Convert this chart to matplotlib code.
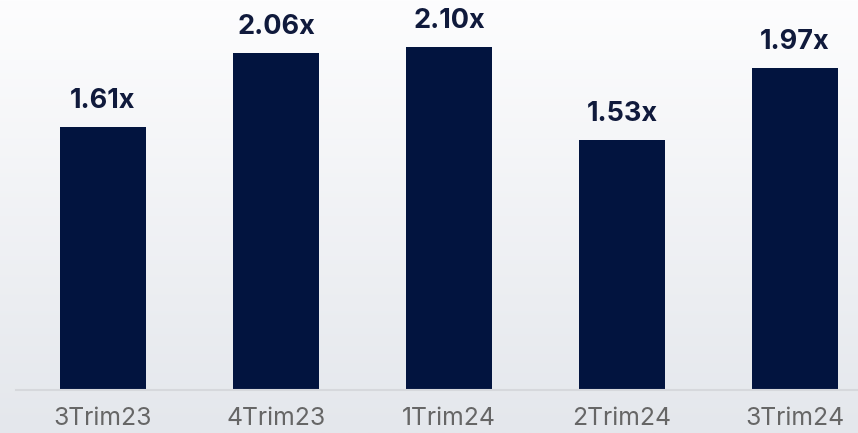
import numpy as np
import matplotlib
matplotlib.use("Agg")
import matplotlib.pyplot as plt
from matplotlib.colors import LinearSegmentedColormap

categories = ["3Trim23", "4Trim23", "1Trim24", "2Trim24", "3Trim24"]
values = [1.61, 2.06, 2.10, 1.53, 1.97]
labels = ["1.61x", "2.06x", "2.10x", "1.53x", "1.97x"]

W, H = 858, 433
fig = plt.figure(figsize=(W / 100, H / 100), dpi=100)

# background gradient
bg = fig.add_axes([0, 0, 1, 1], zorder=0)
cmap = LinearSegmentedColormap.from_list("bg", ["#fdfdfe", "#e4e7ec"])
grad = np.linspace(0, 1, 256).reshape(-1, 1)
bg.imshow(grad, aspect="auto", cmap=cmap, extent=[0, 1, 0, 1], origin="upper")
bg.axis("off")

ax = fig.add_axes([16 / W, (H - 390) / H, (W - 16) / W, 390 / H], zorder=1)
ax.patch.set_alpha(0)
x = np.arange(len(categories))
ax.bar(x, values, width=0.5, color="#02143f")
ax.set_xlim(-0.503, 4.364)
ax.set_ylim(0, 2.387)
for xi, v, lab in zip(x, values, labels):
    ax.annotate(lab, (xi, v), xytext=(0, 13), textcoords="offset pixels",
                ha="center", va="bottom", fontsize=19.5, fontweight="bold",
                color="#101a3c", family="Inter")
ax.set_xticks(x)
ax.set_xticklabels(categories, fontsize=17.8, color="#666666", family="Inter")
ax.tick_params(axis="x", length=0, pad=12)
ax.set_yticks([])
for s in ["top", "right", "left"]:
    ax.spines[s].set_visible(False)
ax.spines["bottom"].set_color("#d6d8dc")
ax.spines["bottom"].set_linewidth(1.5)

fig.savefig("out.png", dpi=100)
